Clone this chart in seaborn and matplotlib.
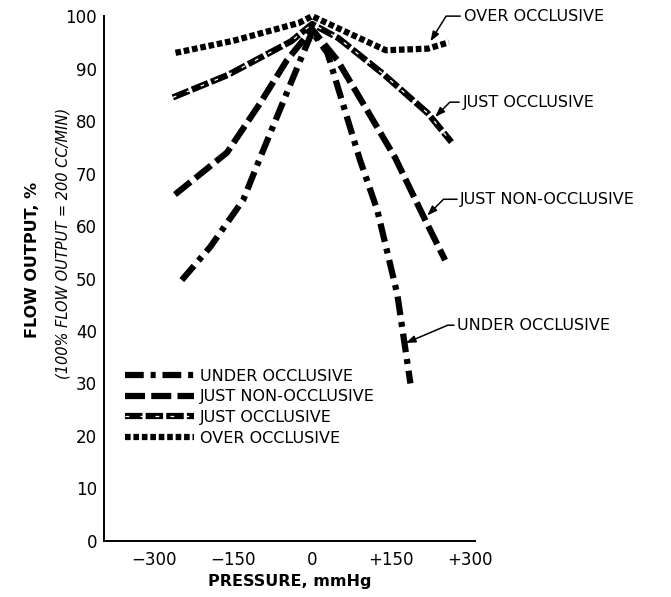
import matplotlib

matplotlib.use("Agg")
import matplotlib.pyplot as plt
import seaborn as sns
from matplotlib.legend_handler import HandlerTuple
from matplotlib.lines import Line2D

# values (pressure in mmHg, flow output in %)
pressure_under = [-248, -194, -131, -99, -23, 0, 29, 91, 124, 162, 187]
flow_under = [49.7, 56, 65, 73, 91.5, 97, 93, 72.6, 63, 47, 30]

pressure_jno = [-261, -162, -99, -48, 0, 48, 105, 158, 211, 253]
flow_jno = [66, 74, 83.4, 91.6, 97.5, 91.6, 82, 73, 62, 53.5]

pressure_jo = [-265, -160, -40, 0, 50, 135, 220, 265]
flow_jo = [84.5, 88.8, 95.2, 98.5, 95.8, 89, 81.5, 76]

pressure_over = [-260, -150, -25, 0, 75, 140, 220, 260]
flow_over = [93, 95.3, 98.7, 100, 96.5, 93.5, 93.8, 95]

series_names = ["UNDER OCCLUSIVE", "JUST NON-OCCLUSIVE", "JUST OCCLUSIVE", "OVER OCCLUSIVE"]
x_ticks = [-300, -150, 0, 150, 300]
x_tick_labels = ["\u2212300", "\u2212150", "0", "+150", "+300"]
y_ticks = list(range(0, 101, 10))

LW = 4.5
STYLE_UNDER = (0, (3.0, 1.1, 0.8, 1.1))
STYLE_JNO = (0, (3.2, 1.0))
STYLE_JO = (0, (2.8, 0.5))
STYLE_JO_STRIPE = (0, (3, 9))
STYLE_OVER = (0, (0.9, 0.45))


def draw(ax, x, y, style, color="black", lw=LW):
    sns.lineplot(x=x, y=y, ax=ax, color=color, lw=lw, linestyle=style,
                 sort=False, clip_on=False, solid_capstyle="butt")


def main() -> None:
    sns.set_style("white")
    plt.rcParams["font.family"] = ["DejaVu Sans"]
    plt.rcParams["text.color"] = "black"
    plt.rcParams["axes.labelcolor"] = "black"
    plt.rcParams["xtick.color"] = "black"
    plt.rcParams["ytick.color"] = "black"

    fig = plt.figure(figsize=(6.71, 5.97), dpi=100)
    ax = fig.add_axes([0.155, 0.094, 0.553, 0.879])

    draw(ax, pressure_over, flow_over, STYLE_OVER)
    draw(ax, pressure_jo, flow_jo, STYLE_JO)
    draw(ax, pressure_jo, flow_jo, STYLE_JO_STRIPE, color="white", lw=0.9)
    draw(ax, pressure_jno, flow_jno, STYLE_JNO)
    draw(ax, pressure_under, flow_under, STYLE_UNDER)

    ax.set_xlim(-396, 310)
    ax.set_ylim(0, 100)
    ax.set_xticks(x_ticks)
    ax.set_xticklabels(x_tick_labels)
    ax.set_yticks(y_ticks)
    ax.tick_params(axis="both", length=0, labelsize=12, labelcolor="black")
    ax.tick_params(axis="y", pad=5)
    ax.tick_params(axis="x", pad=7)
    sns.despine(ax=ax)
    for side in ("left", "bottom"):
        ax.spines[side].set_color("black")
        ax.spines[side].set_linewidth(1.4)

    ax.set_xlabel("PRESSURE, mmHg", fontsize=11.5, fontweight="bold", labelpad=4)
    ax.set_ylabel("")
    fig.text(0.049, 0.565, "FLOW OUTPUT, %", rotation=90, ha="center", va="center",
             fontsize=11.5, fontweight="bold")
    fig.text(0.094, 0.593, "(100% FLOW OUTPUT = 200 CC/MIN)", rotation=90,
             ha="center", va="center", fontsize=10.5, style="italic")

    # labels with leader arrows on the right
    notes = [
        ("OVER OCCLUSIVE", (225, 95.2), (288, 100.0), 58),
        ("JUST OCCLUSIVE", (234, 80.8), (286, 83.6), 45),
        ("JUST NON-OCCLUSIVE", (219, 62.0), (282, 65.1), 45),
        ("UNDER OCCLUSIVE", (178, 37.7), (276, 41.1), 23),
    ]
    for text, tip, pos, angle in notes:
        ax.annotate(
            text, xy=tip, xytext=pos, ha="left", va="center", fontsize=11.5,
            annotation_clip=False,
            arrowprops=dict(arrowstyle="-|>,head_length=0.5,head_width=0.18",
                            color="black", lw=1.1, shrinkA=0, shrinkB=0,
                            relpos=(0, 0.5),
                            connectionstyle=f"angle,angleA=0,angleB={angle},rad=0"),
        )

    def handle(style, lw=LW, color="black"):
        return Line2D([], [], color=color, lw=lw, linestyle=style, solid_capstyle="butt")

    handles = [
        handle(STYLE_UNDER),
        handle(STYLE_JNO),
        (handle(STYLE_JO), handle(STYLE_JO_STRIPE, lw=0.9, color="white")),
        handle(STYLE_OVER),
    ]
    ax.legend(handles, series_names, loc="upper left", bbox_to_anchor=(0.04, 0.34),
              frameon=False, fontsize=11.5, handlelength=4.3, handletextpad=0.35,
              labelspacing=0.35, borderaxespad=0, labelcolor="black",
              handler_map={tuple: HandlerTuple(ndivide=1, pad=0)})

    fig.savefig("out.png", dpi=100)
    plt.close(fig)


if __name__ == "__main__":
    main()
